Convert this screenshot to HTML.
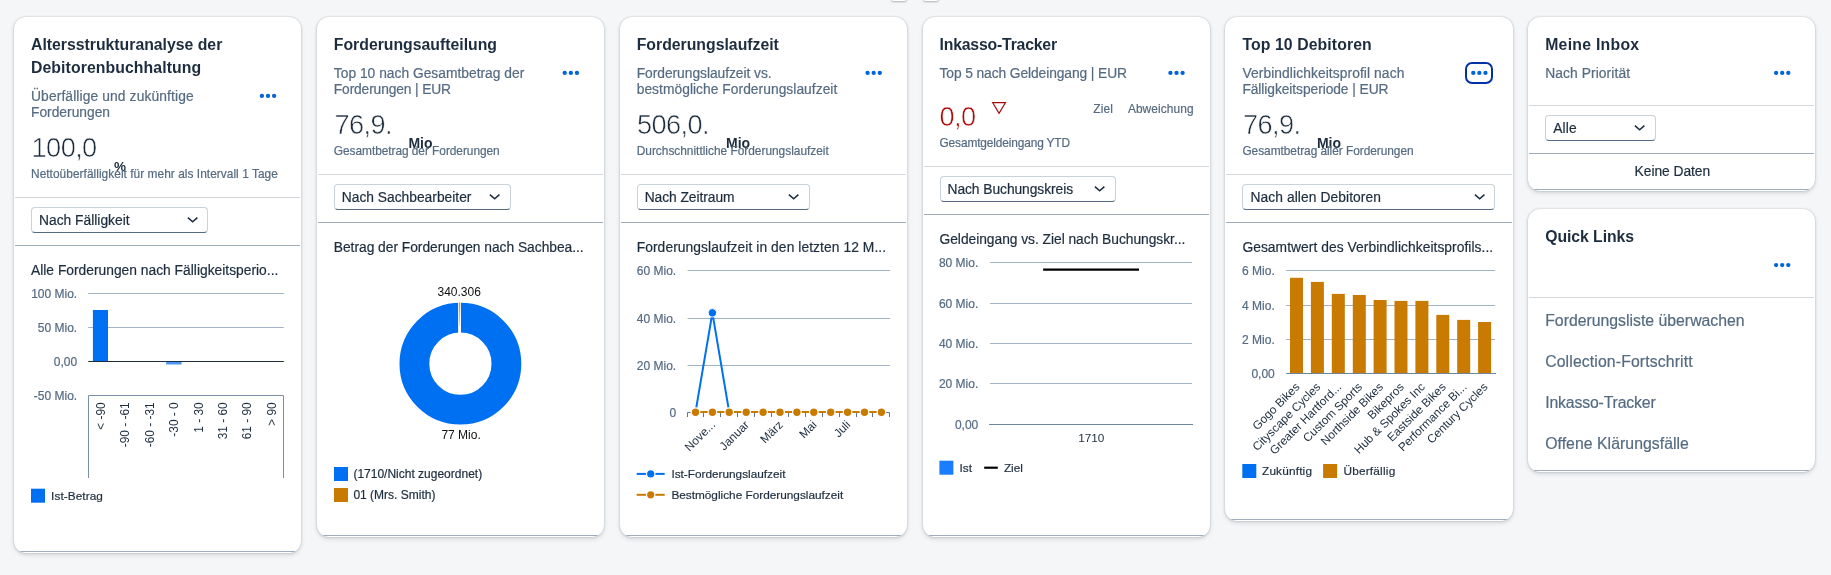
<!DOCTYPE html>
<html lang="de"><head><meta charset="utf-8"><title>Forderungsmanagement – Übersicht</title>
<style>
html,body{margin:0;padding:0}
body{width:1831px;height:575px;overflow:hidden;position:relative;background:#f5f6f7;font-family:"Liberation Sans",sans-serif;color:#1d2d3e}
.card{position:absolute;background:#fff;border-radius:12px;box-shadow:0 0 2px rgba(34,53,72,.3),0 2px 4px rgba(34,53,72,.16);overflow:hidden}
.card>*{position:absolute;margin:0}
.t{white-space:nowrap;line-height:1}
.sub,.cap,.ct,.lg,.lnk,.sel span{-webkit-text-stroke:0.2px currentColor}
.ttl{font-weight:bold;font-size:15.8px;color:#1d2d3e}
.sub{font-size:13.8px;color:#556b82}
.num{color:#1d2d3e;letter-spacing:-0.6px;-webkit-text-stroke:0.55px #fff}
.unit{font-weight:bold;font-size:13.5px;color:#1d2d3e}
.cap{font-size:11.9px;color:#556b82}
.ct{font-size:13.8px;color:#1d2d3e}
.lg{font-size:11.8px;color:#1d2d3e}
.d1{height:1px;background:#d6d9dc;left:1px;right:1px}
.d2{height:1px;background:#9eabb8;left:1px;right:1px}
.bl{height:1px;background:#a0aebb;left:0;right:0}
.sel{box-sizing:border-box;height:26px;border:1px solid #c9d1d9;border-bottom-color:#556b82;border-radius:4px;background:#fff}
.sel span{position:absolute;left:7px;top:6.1px;font-size:13.8px;line-height:1;color:#1d2d3e;white-space:nowrap}
.sel svg{position:absolute;right:8.4px;top:8.2px}
.lnk{font-size:15.8px;color:#556b82}
main{position:absolute;left:0;top:0;width:1831px;height:575px;will-change:transform}
svg{overflow:visible}
svg text{font-family:"Liberation Sans",sans-serif}
</style></head>
<body>
<main>
<div style="position:absolute;left:891px;top:-10px;width:16px;height:11.3px;background:#fff;border-radius:3px;box-shadow:0 1px 2px rgba(34,53,72,.35)"></div>
<div style="position:absolute;left:922.6px;top:-10px;width:16px;height:11.3px;background:#fff;border-radius:3px;box-shadow:0 1px 2px rgba(34,53,72,.35)"></div>
<section class="card" aria-label="Altersstrukturanalyse der Debitorenbuchhaltung" style="left:14.0px;top:17.0px;width:287.2px;height:536.0px">
<h2 class="t ttl" style="left:17.0px;top:20.1px;font-size:15.8px;letter-spacing:-0.004px;">Altersstrukturanalyse der</h2>
<h2 class="t ttl" style="left:17.0px;top:43.1px;font-size:15.8px;letter-spacing:0.085px;">Debitorenbuchhaltung</h2>
<div class="t sub" style="left:17.0px;top:73.1px;font-size:13.8px;letter-spacing:0.123px;">Überfällige und zukünftige</div>
<div class="t sub" style="left:17.0px;top:89.1px;font-size:13.8px;letter-spacing:-0.000px;">Forderungen</div>
<svg width="22" height="9" style="left:244.00px;top:74.00px"><circle cx="3.90" cy="4.90" r="2.15" fill="#0064d9"/><circle cx="10.00" cy="4.90" r="2.15" fill="#0064d9"/><circle cx="16.10" cy="4.90" r="2.15" fill="#0064d9"/></svg>
<div class="t num" style="left:17.6px;top:117.1px;font-size:27.2px;">100,0</div>
<div class="t unit" style="left:100.0px;top:143.1px;font-size:13.5px;">%</div>
<div class="t cap" style="left:17.0px;top:152.1px;font-size:11.9px;letter-spacing:0.038px;">Nettoüberfälligkeit für mehr als Intervall 1 Tage</div>
<div class="d1" style="top:180.0px"></div>
<div class="sel" style="left:17.0px;top:190.0px;width:177.0px"><span style="letter-spacing:0.008px;">Nach Fälligkeit</span><svg width="12" height="8" viewBox="0 0 12 8"><path d="M0.9 1.6 L5.65 5.8 L10.4 1.6" fill="none" stroke="#1d2d3e" stroke-width="1.5"/></svg></div>
<div class="d2" style="top:228.0px"></div>
<div class="t ct" style="left:17.0px;top:247.1px;font-size:13.8px;letter-spacing:0.009px;">Alle Forderungen nach Fälligkeitsperio...</div>
<svg width="289" height="537" style="left:0.00px;top:0.00px"><g transform="translate(-14,-17)">
<text x="77.2" y="298" text-anchor="end" font-size="12" fill="#556b82" stroke="#556b82" stroke-width="0.2">100 Mio.</text>
<text x="77.2" y="332" text-anchor="end" font-size="12" fill="#556b82" stroke="#556b82" stroke-width="0.2">50 Mio.</text>
<text x="77.2" y="366" text-anchor="end" font-size="12" fill="#556b82" stroke="#556b82" stroke-width="0.2">0,00</text>
<text x="77.2" y="400" text-anchor="end" font-size="12" fill="#556b82" stroke="#556b82" stroke-width="0.2">-50 Mio.</text>
<line x1="88.2" x2="283.8" y1="293.5" y2="293.5" stroke="#a3b3c6" stroke-width="1"/>
<line x1="88.2" x2="283.8" y1="327.5" y2="327.5" stroke="#a3b3c6" stroke-width="1"/>
<path d="M88.5 478 V395.5 H283.5 V478" fill="none" stroke="#7b90a6" stroke-width="1"/>
<rect x="92.9" y="310" width="15.1" height="51.5" fill="#0070f2"/>
<rect x="166.2" y="361.5" width="15.4" height="3" fill="#4a97f6"/>
<line x1="88.2" x2="283.8" y1="361.5" y2="361.5" stroke="#1d2d3e" stroke-width="1"/>
<text transform="translate(104.7,402.3) rotate(-90)" text-anchor="end" font-size="11.9" fill="#1d2d3e">&lt; -90</text>
<text transform="translate(129.2,402.3) rotate(-90)" text-anchor="end" font-size="11.9" fill="#1d2d3e">-90 - -61</text>
<text transform="translate(153.6,402.3) rotate(-90)" text-anchor="end" font-size="11.9" fill="#1d2d3e">-60 - -31</text>
<text transform="translate(178.1,402.3) rotate(-90)" text-anchor="end" font-size="11.9" fill="#1d2d3e">-30 - 0</text>
<text transform="translate(202.5,402.3) rotate(-90)" text-anchor="end" font-size="11.9" fill="#1d2d3e">1 - 30</text>
<text transform="translate(227.0,402.3) rotate(-90)" text-anchor="end" font-size="11.9" fill="#1d2d3e">31 - 60</text>
<text transform="translate(251.4,402.3) rotate(-90)" text-anchor="end" font-size="11.9" fill="#1d2d3e">61 - 90</text>
<text transform="translate(275.9,402.3) rotate(-90)" text-anchor="end" font-size="11.9" fill="#1d2d3e">&gt; 90</text>
<rect x="31" y="488.7" width="14" height="14" fill="#0070f2"/>
</g></svg>
<div class="t lg" style="left:37.1px;top:474.1px;font-size:11.8px;letter-spacing:0.073px;">Ist-Betrag</div>
<div class="bl" style="top:534.0px"></div>
</section>
<section class="card" aria-label="Forderungsaufteilung" style="left:316.8px;top:17.0px;width:287.2px;height:520.0px">
<h2 class="t ttl" style="left:17.0px;top:20.1px;font-size:15.8px;letter-spacing:-0.002px;">Forderungsaufteilung</h2>
<div class="t sub" style="left:17.0px;top:50.1px;font-size:13.8px;letter-spacing:0.011px;">Top 10 nach Gesamtbetrag der</div>
<div class="t sub" style="left:17.0px;top:66.1px;font-size:13.8px;letter-spacing:-0.136px;">Forderungen | EUR</div>
<svg width="22" height="9" style="left:243.16px;top:51.00px"><circle cx="4.74" cy="4.90" r="2.15" fill="#0064d9"/><circle cx="10.84" cy="4.90" r="2.15" fill="#0064d9"/><circle cx="16.94" cy="4.90" r="2.15" fill="#0064d9"/></svg>
<div class="t num" style="left:17.6px;top:94.1px;font-size:27.2px;">76,9.</div>
<div class="t unit" style="left:91.6px;top:119.1px;font-size:14px;">Mio</div>
<div class="t cap" style="left:17.0px;top:129.1px;font-size:11.9px;letter-spacing:-0.049px;">Gesamtbetrag der Forderungen</div>
<div class="d1" style="top:157.0px"></div>
<div class="sel" style="left:17.0px;top:167.0px;width:177.0px"><span style="letter-spacing:-0.001px;">Nach Sachbearbeiter</span><svg width="12" height="8" viewBox="0 0 12 8"><path d="M0.9 1.6 L5.65 5.8 L10.4 1.6" fill="none" stroke="#1d2d3e" stroke-width="1.5"/></svg></div>
<div class="d2" style="top:205.0px"></div>
<div class="t ct" style="left:17.0px;top:224.1px;font-size:13.8px;letter-spacing:-0.025px;">Betrag der Forderungen nach Sachbea...</div>
<svg width="289" height="521" style="left:-0.84px;top:0.00px"><g transform="translate(-316,-17)">
<circle cx="460.4" cy="363.7" r="46" fill="none" stroke="#0070f2" stroke-width="29.8"/>
<rect x="458.1" y="302" width="2.9" height="31.2" fill="#fff"/>
<path d="M458.9 302.4 H460.3 L459.9 326 H459.6 Z" fill="#dc9a35"/>
<text x="459.2" y="296" text-anchor="middle" font-size="12" fill="#111">340.306</text>
<text x="461.1" y="439" text-anchor="middle" font-size="12" fill="#111">77 Mio.</text>
<rect x="334" y="467" width="14" height="14" fill="#0070f2"/>
<rect x="334" y="488" width="14" height="14" fill="#c87b00"/>
</g></svg>
<div class="t lg" style="left:36.6px;top:451.1px;font-size:12px;">(1710/Nicht zugeordnet)</div>
<div class="t lg" style="left:36.6px;top:472.1px;font-size:12px;">01 (Mrs. Smith)</div>
<div class="bl" style="top:518.0px"></div>
</section>
<section class="card" aria-label="Forderungslaufzeit" style="left:619.7px;top:17.0px;width:287.2px;height:520.0px">
<h2 class="t ttl" style="left:17.0px;top:20.1px;font-size:15.8px;letter-spacing:0.001px;">Forderungslaufzeit</h2>
<div class="t sub" style="left:17.0px;top:50.1px;font-size:13.8px;letter-spacing:-0.035px;">Forderungslaufzeit vs.</div>
<div class="t sub" style="left:17.0px;top:66.1px;font-size:13.8px;letter-spacing:0.040px;">bestmögliche Forderungslaufzeit</div>
<svg width="22" height="9" style="left:243.32px;top:51.00px"><circle cx="4.58" cy="4.90" r="2.15" fill="#0064d9"/><circle cx="10.68" cy="4.90" r="2.15" fill="#0064d9"/><circle cx="16.78" cy="4.90" r="2.15" fill="#0064d9"/></svg>
<div class="t num" style="left:17.3px;top:94.1px;font-size:27.2px;">506,0.</div>
<div class="t unit" style="left:106.3px;top:119.1px;font-size:14px;">Mio</div>
<div class="t cap" style="left:17.0px;top:129.1px;font-size:11.9px;letter-spacing:-0.006px;">Durchschnittliche Forderungslaufzeit</div>
<div class="d1" style="top:157.0px"></div>
<div class="sel" style="left:17.0px;top:167.0px;width:173.0px"><span style="letter-spacing:-0.048px;">Nach Zeitraum</span><svg width="12" height="8" viewBox="0 0 12 8"><path d="M0.9 1.6 L5.65 5.8 L10.4 1.6" fill="none" stroke="#1d2d3e" stroke-width="1.5"/></svg></div>
<div class="d2" style="top:205.0px"></div>
<div class="t ct" style="left:17.0px;top:224.1px;font-size:13.8px;letter-spacing:0.080px;">Forderungslaufzeit in den letzten 12 M...</div>
<svg width="289" height="521" style="left:-0.68px;top:0.00px"><g transform="translate(-619,-17)">
<text x="676.2" y="275" text-anchor="end" font-size="12" fill="#556b82" stroke="#556b82" stroke-width="0.2">60 Mio.</text>
<text x="676.2" y="323" text-anchor="end" font-size="12" fill="#556b82" stroke="#556b82" stroke-width="0.2">40 Mio.</text>
<text x="676.2" y="370" text-anchor="end" font-size="12" fill="#556b82" stroke="#556b82" stroke-width="0.2">20 Mio.</text>
<text x="676.2" y="417" text-anchor="end" font-size="12" fill="#556b82" stroke="#556b82" stroke-width="0.2">0</text>
<line x1="687.6" x2="890.0" y1="270.5" y2="270.5" stroke="#a3b3c6" stroke-width="1"/>
<line x1="687.6" x2="890.0" y1="318.5" y2="318.5" stroke="#a3b3c6" stroke-width="1"/>
<line x1="687.6" x2="890.0" y1="365.5" y2="365.5" stroke="#a3b3c6" stroke-width="1"/>
<path d="M687.5 417 V412.5 H889.5 V417 M703.5 412.5 V417 M720.5 412.5 V417 M737.5 412.5 V417 M754.5 412.5 V417 M771.5 412.5 V417 M788.5 412.5 V417 M805.5 412.5 V417 M822.5 412.5 V417 M839.5 412.5 V417 M856.5 412.5 V417 M872.5 412.5 V417" fill="none" stroke="#5f748b" stroke-width="1"/>
<polyline points="695.5,412.2 712.4,312.8 729.2,412.2" fill="none" stroke="#0070f2" stroke-width="2" stroke-linejoin="round"/>
<circle cx="712.4" cy="312.8" r="4.2" fill="#0070f2" stroke="#fff" stroke-width="1"/>
<line x1="695.5" x2="881.4" y1="412.1" y2="412.1" stroke="#c87b00" stroke-width="2"/>
<circle cx="695.5" cy="412.2" r="4.3" fill="#c87b00" stroke="#fff" stroke-width="1.2"/>
<circle cx="712.4" cy="412.2" r="4.3" fill="#c87b00" stroke="#fff" stroke-width="1.2"/>
<circle cx="729.2" cy="412.2" r="4.3" fill="#c87b00" stroke="#fff" stroke-width="1.2"/>
<circle cx="746.2" cy="412.2" r="4.3" fill="#c87b00" stroke="#fff" stroke-width="1.2"/>
<circle cx="763.1" cy="412.2" r="4.3" fill="#c87b00" stroke="#fff" stroke-width="1.2"/>
<circle cx="780.0" cy="412.2" r="4.3" fill="#c87b00" stroke="#fff" stroke-width="1.2"/>
<circle cx="796.9" cy="412.2" r="4.3" fill="#c87b00" stroke="#fff" stroke-width="1.2"/>
<circle cx="813.8" cy="412.2" r="4.3" fill="#c87b00" stroke="#fff" stroke-width="1.2"/>
<circle cx="830.7" cy="412.2" r="4.3" fill="#c87b00" stroke="#fff" stroke-width="1.2"/>
<circle cx="847.6" cy="412.2" r="4.3" fill="#c87b00" stroke="#fff" stroke-width="1.2"/>
<circle cx="864.5" cy="412.2" r="4.3" fill="#c87b00" stroke="#fff" stroke-width="1.2"/>
<circle cx="881.4" cy="412.2" r="4.3" fill="#c87b00" stroke="#fff" stroke-width="1.2"/>
<text transform="translate(716.0,425.5) rotate(-45)" text-anchor="end" font-size="11.8" fill="#1d2d3e">Nove...</text>
<text transform="translate(749.8,425.5) rotate(-45)" text-anchor="end" font-size="11.8" fill="#1d2d3e">Januar</text>
<text transform="translate(783.6,425.5) rotate(-45)" text-anchor="end" font-size="11.8" fill="#1d2d3e">März</text>
<text transform="translate(817.4,425.5) rotate(-45)" text-anchor="end" font-size="11.8" fill="#1d2d3e">Mai</text>
<text transform="translate(851.2,425.5) rotate(-45)" text-anchor="end" font-size="11.8" fill="#1d2d3e">Juli</text>
<line x1="636.7" x2="664.7" y1="473.9" y2="473.9" stroke="#0070f2" stroke-width="2"/>
<circle cx="650.7" cy="473.9" r="4.2" fill="#0070f2" stroke="#fff" stroke-width="1.2"/>
<line x1="636.7" x2="664.7" y1="494.8" y2="494.8" stroke="#c87b00" stroke-width="2"/>
<circle cx="650.7" cy="494.8" r="4.2" fill="#c87b00" stroke="#fff" stroke-width="1.2"/>
</g></svg>
<div class="t lg" style="left:51.7px;top:452.1px;font-size:11.8px;">Ist-Forderungslaufzeit</div>
<div class="t lg" style="left:51.7px;top:473.1px;font-size:11.8px;">Bestmögliche Forderungslaufzeit</div>
<div class="bl" style="top:518.0px"></div>
</section>
<section class="card" aria-label="Inkasso-Tracker" style="left:922.5px;top:17.0px;width:287.2px;height:520.0px">
<h2 class="t ttl" style="left:17.0px;top:20.1px;font-size:15.8px;letter-spacing:-0.193px;">Inkasso-Tracker</h2>
<div class="t sub" style="left:17.0px;top:50.1px;font-size:13.8px;letter-spacing:-0.091px;">Top 5 nach Geldeingang | EUR</div>
<svg width="22" height="9" style="left:243.48px;top:51.00px"><circle cx="4.42" cy="4.90" r="2.15" fill="#0064d9"/><circle cx="10.52" cy="4.90" r="2.15" fill="#0064d9"/><circle cx="16.62" cy="4.90" r="2.15" fill="#0064d9"/></svg>
<div class="t num" style="left:17.0px;top:86.1px;font-size:27.2px;color:#aa0808">0,0</div>
<svg width="17" height="14" style="left:68.48px;top:84.00px"><path d="M1.7 1.7 H14.4 L8.05 12.4 Z" fill="none" stroke="#aa0808" stroke-width="1.2" stroke-linejoin="miter"/></svg>
<div class="t cap" style="left:170.8px;top:87.1px;font-size:11.9px;letter-spacing:0.113px;">Ziel</div>
<div class="t cap" style="left:205.4px;top:87.1px;font-size:11.9px;letter-spacing:0.091px;">Abweichung</div>
<div class="t cap" style="left:17.0px;top:121.1px;font-size:11.9px;letter-spacing:-0.136px;">Gesamtgeldeingang YTD</div>
<div class="d1" style="top:149.0px"></div>
<div class="sel" style="left:17.0px;top:159.0px;width:176.0px"><span style="letter-spacing:-0.055px;">Nach Buchungskreis</span><svg width="12" height="8" viewBox="0 0 12 8"><path d="M0.9 1.6 L5.65 5.8 L10.4 1.6" fill="none" stroke="#1d2d3e" stroke-width="1.5"/></svg></div>
<div class="d2" style="top:197.0px"></div>
<div class="t ct" style="left:17.0px;top:216.1px;font-size:13.8px;letter-spacing:-0.030px;">Geldeingang vs. Ziel nach Buchungskr...</div>
<svg width="289" height="521" style="left:-0.52px;top:0.00px"><g transform="translate(-922,-17)">
<text x="978.3" y="267" text-anchor="end" font-size="12" fill="#556b82" stroke="#556b82" stroke-width="0.2">80 Mio.</text>
<text x="978.3" y="308" text-anchor="end" font-size="12" fill="#556b82" stroke="#556b82" stroke-width="0.2">60 Mio.</text>
<text x="978.3" y="348" text-anchor="end" font-size="12" fill="#556b82" stroke="#556b82" stroke-width="0.2">40 Mio.</text>
<text x="978.3" y="388" text-anchor="end" font-size="12" fill="#556b82" stroke="#556b82" stroke-width="0.2">20 Mio.</text>
<text x="978.3" y="429" text-anchor="end" font-size="12" fill="#556b82" stroke="#556b82" stroke-width="0.2">0,00</text>
<line x1="990.1" x2="1192.1" y1="262.5" y2="262.5" stroke="#a3b3c6" stroke-width="1"/>
<line x1="990.1" x2="1192.1" y1="303.5" y2="303.5" stroke="#a3b3c6" stroke-width="1"/>
<line x1="990.1" x2="1192.1" y1="343.5" y2="343.5" stroke="#a3b3c6" stroke-width="1"/>
<line x1="990.1" x2="1192.1" y1="383.5" y2="383.5" stroke="#a3b3c6" stroke-width="1"/>
<line x1="989.1" x2="1193.1" y1="424.5" y2="424.5" stroke="#6f859b" stroke-width="1"/>
<line x1="1043.1" x2="1139.0" y1="269.7" y2="269.7" stroke="#000" stroke-width="2.2"/>
<text x="1091.3" y="441.7" text-anchor="middle" font-size="11.8" fill="#1d2d3e">1710</text>
<rect x="939.4" y="460.7" width="14" height="14" fill="#1a7dff"/>
<line x1="984.2" x2="997.8" y1="467.7" y2="467.7" stroke="#000" stroke-width="2.2"/>
</g></svg>
<div class="t lg" style="left:37.0px;top:446.1px;font-size:11.8px;">Ist</div>
<div class="t lg" style="left:81.4px;top:446.1px;font-size:11.8px;">Ziel</div>
<div class="bl" style="top:518.0px"></div>
</section>
<section class="card" aria-label="Top 10 Debitoren" style="left:1225.4px;top:17.0px;width:287.2px;height:504.0px">
<h2 class="t ttl" style="left:17.0px;top:20.1px;font-size:15.8px;letter-spacing:0.097px;">Top 10 Debitoren</h2>
<div class="t sub" style="left:17.0px;top:50.1px;font-size:13.8px;letter-spacing:0.092px;">Verbindlichkeitsprofil nach</div>
<div class="t sub" style="left:17.0px;top:66.1px;font-size:13.8px;letter-spacing:-0.071px;">Fälligkeitsperiode | EUR</div>
<div style="left:239.6px;top:45.0px;width:24.4px;height:17.8px;border:2px solid #0032a5;border-radius:7px"></div>
<svg width="22" height="9" style="left:243.64px;top:51.00px"><circle cx="4.26" cy="4.90" r="2.15" fill="#0064d9"/><circle cx="10.36" cy="4.90" r="2.15" fill="#0064d9"/><circle cx="16.46" cy="4.90" r="2.15" fill="#0064d9"/></svg>
<div class="t num" style="left:17.6px;top:94.1px;font-size:27.2px;">76,9.</div>
<div class="t unit" style="left:91.5px;top:119.1px;font-size:14px;">Mio</div>
<div class="t cap" style="left:17.0px;top:129.1px;font-size:11.9px;letter-spacing:-0.045px;">Gesamtbetrag aller Forderungen</div>
<div class="d1" style="top:157.0px"></div>
<div class="sel" style="left:17.0px;top:167.0px;width:252.5px"><span style="letter-spacing:0.092px;">Nach allen Debitoren</span><svg width="12" height="8" viewBox="0 0 12 8"><path d="M0.9 1.6 L5.65 5.8 L10.4 1.6" fill="none" stroke="#1d2d3e" stroke-width="1.5"/></svg></div>
<div class="d2" style="top:205.0px"></div>
<div class="t ct" style="left:17.0px;top:224.1px;font-size:13.8px;letter-spacing:0.059px;">Gesamtwert des Verbindlichkeitsprofils...</div>
<svg width="289" height="505" style="left:-0.36px;top:0.00px"><g transform="translate(-1225,-17)">
<text x="1274.8" y="275" text-anchor="end" font-size="12" fill="#556b82" stroke="#556b82" stroke-width="0.2">6 Mio.</text>
<text x="1274.8" y="310" text-anchor="end" font-size="12" fill="#556b82" stroke="#556b82" stroke-width="0.2">4 Mio.</text>
<text x="1274.8" y="344" text-anchor="end" font-size="12" fill="#556b82" stroke="#556b82" stroke-width="0.2">2 Mio.</text>
<text x="1274.8" y="378" text-anchor="end" font-size="12" fill="#556b82" stroke="#556b82" stroke-width="0.2">0,00</text>
<line x1="1286.1" x2="1495.1" y1="270.5" y2="270.5" stroke="#a3b3c6" stroke-width="1"/>
<line x1="1286.1" x2="1495.1" y1="305.5" y2="305.5" stroke="#a3b3c6" stroke-width="1"/>
<line x1="1286.1" x2="1495.1" y1="339.5" y2="339.5" stroke="#a3b3c6" stroke-width="1"/>
<rect x="1290.0" y="277.8" width="13" height="95.7" fill="#c87b00"/>
<text transform="translate(1300.3,387.6) rotate(-45)" text-anchor="end" font-size="11.8" fill="#1d2d3e">Gogo Bikes</text>
<rect x="1310.9" y="281.9" width="13" height="91.6" fill="#c87b00"/>
<text transform="translate(1321.2,387.6) rotate(-45)" text-anchor="end" font-size="11.8" fill="#1d2d3e">Cityscape Cycles</text>
<rect x="1331.8" y="293.9" width="13" height="79.6" fill="#c87b00"/>
<text transform="translate(1342.1,387.6) rotate(-45)" text-anchor="end" font-size="11.8" fill="#1d2d3e">Greater Hartford...</text>
<rect x="1352.8" y="295" width="13" height="78.5" fill="#c87b00"/>
<text transform="translate(1363.0,387.6) rotate(-45)" text-anchor="end" font-size="11.8" fill="#1d2d3e">Custom Sports</text>
<rect x="1373.6" y="300" width="13" height="73.5" fill="#c87b00"/>
<text transform="translate(1383.9,387.6) rotate(-45)" text-anchor="end" font-size="11.8" fill="#1d2d3e">Northside Bikes</text>
<rect x="1394.5" y="300.9" width="13" height="72.6" fill="#c87b00"/>
<text transform="translate(1404.8,387.6) rotate(-45)" text-anchor="end" font-size="11.8" fill="#1d2d3e">Bikepros</text>
<rect x="1415.4" y="300.9" width="13" height="72.6" fill="#c87b00"/>
<text transform="translate(1425.7,387.6) rotate(-45)" text-anchor="end" font-size="11.8" fill="#1d2d3e">Hub &amp; Spokes Inc</text>
<rect x="1436.3" y="314.9" width="13" height="58.6" fill="#c87b00"/>
<text transform="translate(1446.6,387.6) rotate(-45)" text-anchor="end" font-size="11.8" fill="#1d2d3e">Eastside Bikes</text>
<rect x="1457.2" y="319.9" width="13" height="53.6" fill="#c87b00"/>
<text transform="translate(1467.5,387.6) rotate(-45)" text-anchor="end" font-size="11.8" fill="#1d2d3e">Performance Bi...</text>
<rect x="1478.1" y="322" width="13" height="51.5" fill="#c87b00"/>
<text transform="translate(1488.4,387.6) rotate(-45)" text-anchor="end" font-size="11.8" fill="#1d2d3e">Century Cycles</text>
<line x1="1286.1" x2="1496.1" y1="373.5" y2="373.5" stroke="#6f859b" stroke-width="1"/>
<rect x="1242.3" y="464" width="14" height="14" fill="#0070f2"/>
<rect x="1323.1" y="464" width="14" height="14" fill="#c87b00"/>
</g></svg>
<div class="t lg" style="left:36.6px;top:449.1px;font-size:11.8px;letter-spacing:0.185px;">Zukünftig</div>
<div class="t lg" style="left:118.0px;top:449.1px;font-size:11.8px;letter-spacing:0.219px;">Überfällig</div>
<div class="bl" style="top:502.0px"></div>
</section>
<section class="card" aria-label="Meine Inbox" style="left:1528.2px;top:17.0px;width:287.2px;height:174.0px">
<h2 class="t ttl" style="left:17.0px;top:20.1px;font-size:15.8px;letter-spacing:0.262px;">Meine Inbox</h2>
<div class="t sub" style="left:17.0px;top:50.1px;font-size:13.8px;letter-spacing:0.094px;">Nach Priorität</div>
<svg width="22" height="9" style="left:243.80px;top:51.00px"><circle cx="4.10" cy="4.90" r="2.15" fill="#0064d9"/><circle cx="10.20" cy="4.90" r="2.15" fill="#0064d9"/><circle cx="16.30" cy="4.90" r="2.15" fill="#0064d9"/></svg>
<div class="d1" style="top:88.0px"></div>
<div class="sel" style="left:17.0px;top:98.0px;width:110.5px"><span style="letter-spacing:0.131px;">Alle</span><svg width="12" height="8" viewBox="0 0 12 8"><path d="M0.9 1.6 L5.65 5.8 L10.4 1.6" fill="none" stroke="#1d2d3e" stroke-width="1.5"/></svg></div>
<div class="d2" style="top:136.0px"></div>
<div class="t ct" style="left:106.4px;top:148.1px;font-size:13.8px;letter-spacing:-0.034px;">Keine Daten</div>
<div class="bl" style="top:172.0px"></div>
</section>
<section class="card" aria-label="Quick Links" style="left:1528.2px;top:209.0px;width:287.2px;height:263.0px">
<h2 class="t ttl" style="left:17.0px;top:20.1px;font-size:15.8px;letter-spacing:-0.064px;">Quick Links</h2>
<svg width="22" height="9" style="left:243.80px;top:52.00px"><circle cx="4.10" cy="4.10" r="2.15" fill="#0064d9"/><circle cx="10.20" cy="4.10" r="2.15" fill="#0064d9"/><circle cx="16.30" cy="4.10" r="2.15" fill="#0064d9"/></svg>
<div class="d1" style="top:88.0px"></div>
<a class="t lnk" style="left:17.0px;top:104.1px;font-size:15.8px;letter-spacing:0.003px;">Forderungsliste überwachen</a>
<a class="t lnk" style="left:17.0px;top:145.1px;font-size:15.8px;letter-spacing:0.122px;">Collection-Fortschritt</a>
<a class="t lnk" style="left:17.0px;top:186.1px;font-size:15.8px;letter-spacing:-0.154px;">Inkasso-Tracker</a>
<a class="t lnk" style="left:17.0px;top:227.1px;font-size:15.8px;letter-spacing:0.045px;">Offene Klärungsfälle</a>
<div class="bl" style="top:261.0px"></div>
</section>
</main>
</body></html>
